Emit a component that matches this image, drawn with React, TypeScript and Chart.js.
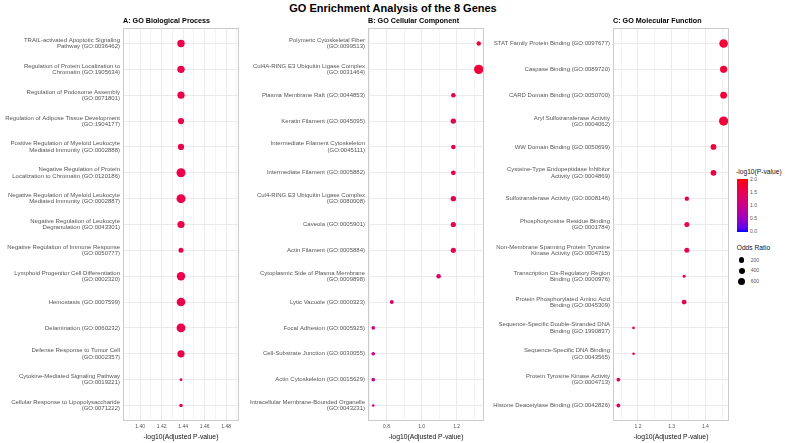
import React, { useEffect, useRef } from "react";
import { Chart, registerables } from "chart.js";

Chart.register(...registerables);

const FONT = "'Liberation Sans', Arial, Helvetica, sans-serif";

const chartTitle = "GO Enrichment Analysis of the 8 Genes";
const xAxisTitle = "-log10(Adjusted P-value)";
const colorLegendTitle = "-log10(P-value)";
const sizeLegendTitle = "Odds Ratio";

// ---------- A: Biological Process ----------
const bpTitle = "A: GO Biological Process";
const bpTerms = [
  "TRAIL-activated Apoptotic Signaling\nPathway (GO:0036462)",
  "Regulation of Protein Localization to\nChromatin (GO:1905634)",
  "Regulation of Podosome Assembly\n(GO:0071801)",
  "Regulation of Adipose Tissue Development\n(GO:1904177)",
  "Positive Regulation of Myeloid Leukocyte\nMediated Immunity (GO:0002888)",
  "Negative Regulation of Protein\nLocalization to Chromatin (GO:0120186)",
  "Negative Regulation of Myeloid Leukocyte\nMediated Immunity (GO:0002887)",
  "Negative Regulation of Leukocyte\nDegranulation (GO:0043301)",
  "Negative Regulation of Immune Response\n(GO:0050777)",
  "Lymphoid Progenitor Cell Differentiation\n(GO:0002320)",
  "Hemostasis (GO:0007599)",
  "Delamination (GO:0060232)",
  "Defense Response to Tumor Cell\n(GO:0002357)",
  "Cytokine-Mediated Signaling Pathway\n(GO:0019221)",
  "Cellular Response to Lipopolysaccharide\n(GO:0071222)",
];
const bpAdjLogP = [1.438, 1.438, 1.438, 1.438, 1.438, 1.438, 1.438, 1.438, 1.438, 1.438, 1.438, 1.438, 1.438, 1.438, 1.438];
const bpLogP = [1.56, 1.56, 1.56, 1.56, 1.56, 1.56, 1.56, 1.56, 1.56, 1.56, 1.56, 1.56, 1.56, 1.56, 1.56];
const bpOddsRatio = [593, 593, 551, 366, 366, 980, 980, 551, 194, 823, 874, 926, 551, 19, 61];
const bpTicks = [1.4, 1.42, 1.44, 1.46, 1.48];
const bpRange = [1.384, 1.492];

// ---------- B: Cellular Component ----------
const ccTitle = "B: GO Cellular Component";
const ccTerms = [
  "Polymeric Cytoskeletal Fiber\n(GO:0099513)",
  "Cul4A-RING E3 Ubiquitin Ligase Complex\n(GO:0031464)",
  "Plasma Membrane Raft (GO:0044853)",
  "Keratin Filament (GO:0045095)",
  "Intermediate Filament Cytoskeleton\n(GO:0045111)",
  "Intermediate Filament (GO:0005882)",
  "Cul4-RING E3 Ubiquitin Ligase Complex\n(GO:0080008)",
  "Caveola (GO:0005901)",
  "Actin Filament (GO:0005884)",
  "Cytoplasmic Side of Plasma Membrane\n(GO:0009898)",
  "Lytic Vacuole (GO:0000323)",
  "Focal Adhesion (GO:0005925)",
  "Cell-Substrate Junction (GO:0030055)",
  "Actin Cytoskeleton (GO:0015629)",
  "Intracellular Membrane-Bounded Organelle\n(GO:0043231)",
];
const ccAdjLogP = [1.326, 1.326, 1.181, 1.181, 1.181, 1.181, 1.181, 1.181, 1.181, 1.097, 0.83, 0.724, 0.724, 0.724, 0.724];
const ccLogP = [1.66, 1.68, 1.46, 1.46, 1.46, 1.46, 1.46, 1.46, 1.46, 1.36, 1.22, 1.1, 1.1, 1.1, 1.08];
const ccOddsRatio = [128, 1092, 148, 245, 148, 170, 245, 219, 219, 148, 91, 61, 61, 61, 12];
const ccTicks = [0.8, 1.0, 1.2];
const ccRange = [0.694, 1.356];

// ---------- C: Molecular Function ----------
const mfTitle = "C: GO Molecular Function";
const mfTerms = [
  "STAT Family Protein Binding (GO:0097677)",
  "Caspase Binding (GO:0089720)",
  "CARD Domain Binding (GO:0050700)",
  "Aryl Sulfotransferase Activity\n(GO:0004062)",
  "WW Domain Binding (GO:0050699)",
  "Cysteine-Type Endopeptidase Inhibitor\nActivity (GO:0004869)",
  "Sulfotransferase Activity (GO:0008146)",
  "Phosphotyrosine Residue Binding\n(GO:0001784)",
  "Non-Membrane Spanning Protein Tyrosine\nKinase Activity (GO:0004715)",
  "Transcription Cis-Regulatory Region\nBinding (GO:0000976)",
  "Protein Phosphorylated Amino Acid\nBinding (GO:0045309)",
  "Sequence-Specific Double-Stranded DNA\nBinding (GO:1990837)",
  "Sequence-Specific DNA Binding\n(GO:0043565)",
  "Protein Tyrosine Kinase Activity\n(GO:0004713)",
  "Histone Deacetylase Binding (GO:0042826)",
];
const mfAdjLogP = [1.454, 1.454, 1.454, 1.454, 1.424, 1.424, 1.345, 1.345, 1.345, 1.337, 1.337, 1.187, 1.187, 1.142, 1.142];
const mfLogP = [1.7, 1.7, 1.7, 1.7, 1.65, 1.65, 1.56, 1.56, 1.56, 1.54, 1.54, 1.42, 1.42, 1.38, 1.38];
const mfOddsRatio = [874, 551, 473, 1035, 302, 302, 128, 194, 194, 27, 170, 12, 12, 76, 76];
const mfTicks = [1.2, 1.3, 1.4];
const mfRange = [1.126, 1.47];

// ---------- legends ----------
const colorLimits = [0, 2];
const colorBreaks = [2.0, 1.5, 1.0, 0.5, 0.0];
const sizeBreaks = [200, 400, 600];

// ---------- helpers ----------
function toLin(c: number) {
  c /= 255;
  return c <= 0.04045 ? c / 12.92 : Math.pow((c + 0.055) / 1.055, 2.4);
}
function rgbToLab(rgb: number[]) {
  const R = toLin(rgb[0]), G = toLin(rgb[1]), B = toLin(rgb[2]);
  const X = (0.4124564 * R + 0.3575761 * G + 0.1804375 * B) / 0.95047;
  const Y = 0.2126729 * R + 0.7151522 * G + 0.072175 * B;
  const Z = (0.0193339 * R + 0.119192 * G + 0.9503041 * B) / 1.08883;
  const f = (t: number) => (t > 0.008856 ? Math.cbrt(t) : 7.787 * t + 16 / 116);
  const fx = f(X), fy = f(Y), fz = f(Z);
  return [116 * fy - 16, 500 * (fx - fy), 200 * (fy - fz)];
}
function labToRgb(lab: number[]) {
  const [L, a, b] = lab;
  const fy = (L + 16) / 116, fx = fy + a / 500, fz = fy - b / 200;
  const inv = (t: number) => (t * t * t > 0.008856 ? t * t * t : (t - 16 / 116) / 7.787);
  const X = inv(fx) * 0.95047, Y = inv(fy), Z = inv(fz) * 1.08883;
  const R = 3.2404542 * X - 1.5371385 * Y - 0.4985314 * Z;
  const G = -0.969266 * X + 1.8760108 * Y + 0.041556 * Z;
  const B = 0.0556434 * X - 0.2040259 * Y + 1.0572252 * Z;
  const s = (c: number) => {
    c = Math.min(1, Math.max(0, c));
    return Math.round(255 * (c <= 0.0031308 ? 12.92 * c : 1.055 * Math.pow(c, 1 / 2.4) - 0.055));
  };
  return [s(R), s(G), s(B)];
}
const LOW = rgbToLab([0, 0, 255]);
const HIGH = rgbToLab([255, 0, 0]);
function colorFor(v: number) {
  let t = (v - colorLimits[0]) / (colorLimits[1] - colorLimits[0]);
  t = Math.min(1, Math.max(0, t));
  const lab = [0, 1, 2].map((k) => LOW[k] + (HIGH[k] - LOW[k]) * t);
  const [r, g, b] = labToRgb(lab);
  return `rgb(${r},${g},${b})`;
}
function radiusFor(or: number) {
  return 0.9 + 0.115 * Math.sqrt(or);
}

const PANEL_W = 245;
const Y_AXIS_W = 123;
const PLOT_RIGHT_PAD = 6;
const PLOT_TOP = 28;
const X_AXIS_H = 22;
const TEXT_GREY = "#555555";

type PanelProps = {
  left: number;
  title: string;
  terms: string[];
  xs: number[];
  logP: number[];
  odds: number[];
  ticks: number[];
  range: number[];
  decimals: number;
};

function Panel({ left, title, terms, xs, logP, odds, ticks, range, decimals }: PanelProps) {
  const ref = useRef<HTMLCanvasElement>(null);
  useEffect(() => {
    const canvas = ref.current;
    if (!canvas) return;
    const step = ticks[1] - ticks[0];
    const half = step / 2;
    const n = Math.floor((ticks[0] - range[0]) / half + 1e-9);
    const start = ticks[0] - n * half;
    const gridVals: { value: number; isMajor: boolean }[] = [];
    for (let k = 0; ; k++) {
      const v = Math.round((start + k * half) * 1e6) / 1e6;
      if (v > range[1] + 1e-9) break;
      const q = (v - ticks[0]) / step;
      gridVals.push({ value: v, isMajor: Math.abs(q - Math.round(q)) < 1e-6 });
    }

    const decor = {
      id: "decor",
      afterDraw(chart: any) {
        const { ctx, chartArea } = chart;
        ctx.save();
        ctx.strokeStyle = "#cccccc";
        ctx.lineWidth = 1;
        ctx.strokeRect(
          Math.round(chartArea.left) + 0.5,
          Math.round(chartArea.top) + 0.5,
          Math.round(chartArea.right - chartArea.left) - 1,
          Math.round(chartArea.bottom - chartArea.top) - 1
        );
        ctx.fillStyle = "#000000";
        ctx.font = `bold 7.2px ${FONT}`;
        ctx.textAlign = "left";
        ctx.textBaseline = "middle";
        ctx.fillText(title, chartArea.left, 20.7);
        ctx.restore();
      },
    };

    const chart = new Chart(canvas, {
      type: "bubble",
      data: {
        datasets: [
          {
            data: terms.map((_, i) => ({ x: xs[i], y: i, r: radiusFor(odds[i]) })),
            backgroundColor: logP.map(colorFor),
            borderWidth: 0,
            hoverRadius: 0,
          } as any,
        ],
      },
      options: {
        responsive: false,
        animation: false,
        events: [],
        layout: { padding: { left: 0, right: PLOT_RIGHT_PAD, top: PLOT_TOP, bottom: 0 } },
        plugins: { legend: { display: false }, tooltip: { enabled: false }, title: { display: false } },
        scales: {
          x: {
            type: "linear",
            position: "bottom",
            min: range[0],
            max: range[1],
            afterBuildTicks: (s: any) => {
              s.ticks = gridVals.map((g) => ({ value: g.value, isMajor: g.isMajor }));
            },
            afterFit: (s: any) => {
              s.height = X_AXIS_H;
            },
            ticks: {
              autoSkip: false,
              maxRotation: 0,
              minRotation: 0,
              padding: 3,
              color: TEXT_GREY,
              font: { family: FONT, size: 5 },
              callback: (v: any, i: number, arr: any[]) =>
                arr[i] && arr[i].isMajor ? Number(v).toFixed(decimals) : "",
            },
            grid: {
              drawTicks: false,
              lineWidth: 1,
              color: (ctx: any) => (ctx.tick && ctx.tick.isMajor ? "#ebebeb" : "#f4f4f4"),
            },
            border: { display: false },
            title: {
              display: true,
              text: xAxisTitle,
              color: "#111111",
              font: { family: FONT, size: 6.8 },
              padding: { top: 0, bottom: 2 },
            },
          },
          y: {
            type: "linear",
            min: -0.6,
            max: terms.length - 0.4,
            reverse: true,
            afterBuildTicks: (s: any) => {
              s.ticks = terms.map((_, i) => ({ value: i }));
            },
            afterFit: (s: any) => {
              s.width = Y_AXIS_W;
            },
            ticks: {
              autoSkip: false,
              padding: 3,
              color: TEXT_GREY,
              font: { family: FONT, size: 6, lineHeight: 1.05 },
              callback: (v: any) => {
                const t = terms[Math.round(Number(v))];
                return t ? t.split("\n") : "";
              },
            },
            grid: { drawTicks: false, lineWidth: 1, color: "#ebebeb" },
            border: { display: false },
          },
        },
      } as any,
      plugins: [decor],
    });
    return () => chart.destroy();
  }, []);
  return (
    <canvas
      ref={ref}
      width={PANEL_W}
      height={443}
      style={{ position: "absolute", left, top: 0, width: PANEL_W, height: 443 }}
    />
  );
}

function Legend() {
  const barTop = 179;
  const barH = 52.7;
  const stops: string[] = [];
  for (let k = 0; k <= 20; k++) {
    const v = colorLimits[0] + ((colorLimits[1] - colorLimits[0]) * k) / 20;
    stops.push(`${colorFor(v)} ${(k / 20) * 100}%`);
  }
  const yOf = (v: number) =>
    barTop + ((colorLimits[1] - v) / (colorLimits[1] - colorLimits[0])) * barH;
  const label = (text: string, x: number, cy: number, size: number, color: string, key?: any) => (
    <div
      key={key}
      style={{
        position: "absolute",
        left: x,
        top: cy - size / 2,
        height: size,
        lineHeight: `${size}px`,
        fontSize: size,
        color,
        whiteSpace: "nowrap",
        fontFamily: FONT,
      }}
    >
      {text}
    </div>
  );
  const sizeY = [260, 270.7, 281.3];
  return (
    <>
      {label(colorLegendTitle, 736, 172.7, 6.7, "#111")}
      <div
        style={{
          position: "absolute",
          left: 737,
          top: barTop,
          width: 10.5,
          height: barH,
          background: `linear-gradient(to top, ${stops.join(", ")})`,
        }}
      />
      {colorBreaks.map((v, i) => label(v.toFixed(1), 750, yOf(v), 5, TEXT_GREY, "c" + i))}
      {label(sizeLegendTitle, 736.7, 248.3, 6.7, "#111")}
      {sizeBreaks.map((b, i) => {
        const r = radiusFor(b);
        return (
          <div
            key={"d" + i}
            style={{
              position: "absolute",
              left: 741.7 - r,
              top: sizeY[i] - r,
              width: 2 * r,
              height: 2 * r,
              borderRadius: "50%",
              background: "#000",
            }}
          />
        );
      })}
      {sizeBreaks.map((b, i) => label(String(b), 750.7, sizeY[i], 5, TEXT_GREY, "s" + i))}
    </>
  );
}

export default function App() {
  useEffect(() => {
    document.body.style.margin = "0";
  }, []);
  return (
    <div
      style={{
        position: "fixed",
        left: 0,
        top: 0,
        width: 785,
        height: 443,
        background: "#ffffff",
        overflow: "hidden",
        fontFamily: FONT,
      }}
    >
      <div
        style={{
          position: "absolute",
          left: 0,
          top: 3,
          width: 786,
          textAlign: "center",
          fontSize: 11,
          lineHeight: "11px",
          fontWeight: "bold",
          color: "#000",
          whiteSpace: "nowrap",
        }}
      >
        {chartTitle}
      </div>
      <Panel left={0} title={bpTitle} terms={bpTerms} xs={bpAdjLogP} logP={bpLogP} odds={bpOddsRatio} ticks={bpTicks} range={bpRange} decimals={2} />
      <Panel left={245} title={ccTitle} terms={ccTerms} xs={ccAdjLogP} logP={ccLogP} odds={ccOddsRatio} ticks={ccTicks} range={ccRange} decimals={1} />
      <Panel left={490} title={mfTitle} terms={mfTerms} xs={mfAdjLogP} logP={mfLogP} odds={mfOddsRatio} ticks={mfTicks} range={mfRange} decimals={1} />
      <Legend />
    </div>
  );
}
